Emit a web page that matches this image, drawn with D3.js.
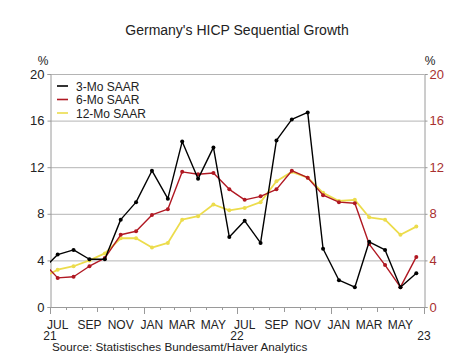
<!DOCTYPE html>
<html><head><meta charset="utf-8">
<script src="https://cdn.jsdelivr.net/npm/d3@7"></script>
<style>body{margin:0;background:#fff}svg{display:block;font-family:"Liberation Sans",Arial,sans-serif}</style>
</head><body><svg id="c" width="474" height="355"></svg>
<script>
// Monthly data, Jun 2021 .. Jun 2023 (Jun 2021 lies just before the axis start and is clipped)
const months = ["2021-06","2021-07","2021-08","2021-09","2021-10","2021-11","2021-12",
  "2022-01","2022-02","2022-03","2022-04","2022-05","2022-06","2022-07","2022-08","2022-09",
  "2022-10","2022-11","2022-12","2023-01","2023-02","2023-03","2023-04","2023-05","2023-06"];
const mo3  = [3.2, 4.5, 4.9, 4.1, 4.1, 7.5, 9.0, 11.7, 9.3, 14.2, 11.0, 13.7, 6.0, 7.4, 5.5, 14.3, 16.1, 16.7, 5.0, 2.3, 1.7, 5.6, 4.9, 1.7, 2.9];
const mo6  = [3.9, 2.5, 2.6, 3.5, 4.2, 6.2, 6.5, 7.9, 8.4, 11.6, 11.4, 11.5, 10.1, 9.2, 9.5, 10.1, 11.7, 11.1, 9.6, 9.0, 8.9, 5.4, 3.6, 1.7, 4.3];
const mo12 = [2.5, 3.2, 3.5, 4.0, 4.6, 5.9, 5.9, 5.1, 5.5, 7.5, 7.8, 8.8, 8.3, 8.5, 9.0, 10.8, 11.6, 11.1, 9.8, 9.1, 9.2, 7.7, 7.5, 6.2, 6.9];
const seriesNames = ["3-Mo SAAR","6-Mo SAAR","12-Mo SAAR"];
const seriesColors = ["#000000","#b01822","#ecdc4c"];
const yTicks = [0,4,8,12,16,20];
const monthLabels = ["JUL","SEP","NOV","JAN","MAR","MAY","JUL","SEP","NOV","JAN","MAR","MAY"];
const monthLabelDates = ["2021-07","2021-09","2021-11","2022-01","2022-03","2022-05","2022-07","2022-09","2022-11","2023-01","2023-03","2023-05"];
const yearLabels = ["21","22","23"];
const yearLabelDates = ["2021-07","2022-07","2023-07"];

const svg = d3.select("#c");
const L = 50, R = 424, T = 74, B = 307;
const parse = d3.timeParse("%Y-%m");
const mid = s => { const d = parse(s); return new Date(d.getFullYear(), d.getMonth(), 16); };
const x = d3.scaleTime().domain([parse("2021-07"), parse("2023-07")]).range([L, R]);
const y = d3.scaleLinear().domain([0, 20]).range([B, T]);

// grid
svg.append("g").selectAll("line").data(yTicks.filter(v => v > 0)).join("line")
  .attr("x1", L).attr("x2", R).attr("y1", d => y(d) + 0.5).attr("y2", d => y(d) + 0.5)
  .attr("stroke", "#b4b4b4").attr("stroke-width", 1);

// left axis
const gl = svg.append("g").attr("transform", `translate(${L + 0.5},0)`)
  .call(d3.axisLeft(y).tickValues(yTicks).tickSize(3).tickPadding(3).tickFormat(d3.format("d")));
gl.select(".domain").attr("stroke", "#9a9a9a");
gl.selectAll(".tick line").attr("stroke", "#9a9a9a");
gl.selectAll("text").attr("font-size", 13).attr("fill", "#222").attr("font-family", "Liberation Sans, Arial, sans-serif");
// right axis
const gr = svg.append("g").attr("transform", `translate(${R + 0.5},0)`)
  .call(d3.axisRight(y).tickValues(yTicks).tickSize(3).tickPadding(2).tickFormat(d3.format("d")));
gr.select(".domain").attr("stroke", "#9a9a9a");
gr.selectAll(".tick line").attr("stroke", "#9a9a9a");
gr.selectAll("text").attr("font-size", 13).attr("fill", "#a8302f").attr("font-family", "Liberation Sans, Arial, sans-serif");

svg.append("text").attr("x", 43).attr("y", 65).attr("text-anchor", "middle").attr("font-size", 12).attr("fill", "#222").text("%");
svg.append("text").attr("x", 430).attr("y", 65).attr("text-anchor", "middle").attr("font-size", 12).attr("fill", "#222").text("%");

// bottom axis: month ticks
const allMonths = d3.timeMonth.range(parse("2021-07"), d3.timeMonth.offset(parse("2023-07"), 1));
const gb = svg.append("g");
gb.append("line").attr("x1", L).attr("x2", R + 1).attr("y1", B + 0.5).attr("y2", B + 0.5).attr("stroke", "#9a9a9a");
gb.selectAll("line.t").data(allMonths).join("line").attr("class", "t")
  .attr("x1", d => Math.round(x(d)) + 0.5).attr("x2", d => Math.round(x(d)) + 0.5)
  .attr("y1", B).attr("y2", d => B + (d.getMonth() % 6 === 0 ? 7 : d.getMonth() % 3 === 0 ? 5 : 3))
  .attr("stroke", "#9a9a9a");
gb.selectAll("text.m").data(monthLabels).join("text").attr("class", "m")
  .attr("x", (d, i) => x(mid(monthLabelDates[i]))).attr("y", 328.5)
  .attr("text-anchor", "middle").attr("font-size", 12).attr("fill", "#222").text(d => d);
gb.selectAll("text.yr").data(yearLabels).join("text").attr("class", "yr")
  .attr("x", (d, i) => x(parse(yearLabelDates[i]))).attr("y", 340)
  .attr("text-anchor", "middle").attr("font-size", 12).attr("fill", "#222").text(d => d);

// lines
svg.append("clipPath").attr("id", "clip").append("rect").attr("x", L).attr("y", T - 5).attr("width", R - L).attr("height", B - T + 10);
const plot = svg.append("g").attr("clip-path", "url(#clip)");
const allSeries = [mo3, mo6, mo12];
const line = d3.line().x((d, i) => x(mid(months[i]))).y(d => y(d));
[2, 1, 0].forEach(k => {
  const vals = allSeries[k];
  plot.append("path").datum(vals).attr("d", line).attr("fill", "none")
    .attr("stroke", seriesColors[k]).attr("stroke-width", k === 2 ? 1.8 : 1.4).attr("stroke-linejoin", "round");
  plot.selectAll(null).data(vals).join("circle")
    .attr("cx", (d, i) => x(mid(months[i]))).attr("cy", d => y(d)).attr("r", 2)
    .attr("fill", seriesColors[k]);
});

// legend
seriesNames.forEach((n, i) => {
  const yy = 86 + i * 13.5;
  svg.append("line").attr("x1", 57).attr("x2", 68).attr("y1", yy).attr("y2", yy)
    .attr("stroke", seriesColors[i]).attr("stroke-width", 1.6);
  svg.append("text").attr("x", 76).attr("y", yy + 4.5).attr("font-size", 12).attr("fill", "#222").text(n);
});

// title & source
svg.append("text").attr("x", 237).attr("y", 35).attr("text-anchor", "middle").attr("font-size", 14).attr("fill", "#222")
  .text("Germany's HICP Sequential Growth");
svg.append("text").attr("x", 52).attr("y", 351).attr("font-size", 11.7).attr("fill", "#222")
  .text("Source:  Statistisches Bundesamt/Haver Analytics");
</script></body></html>
